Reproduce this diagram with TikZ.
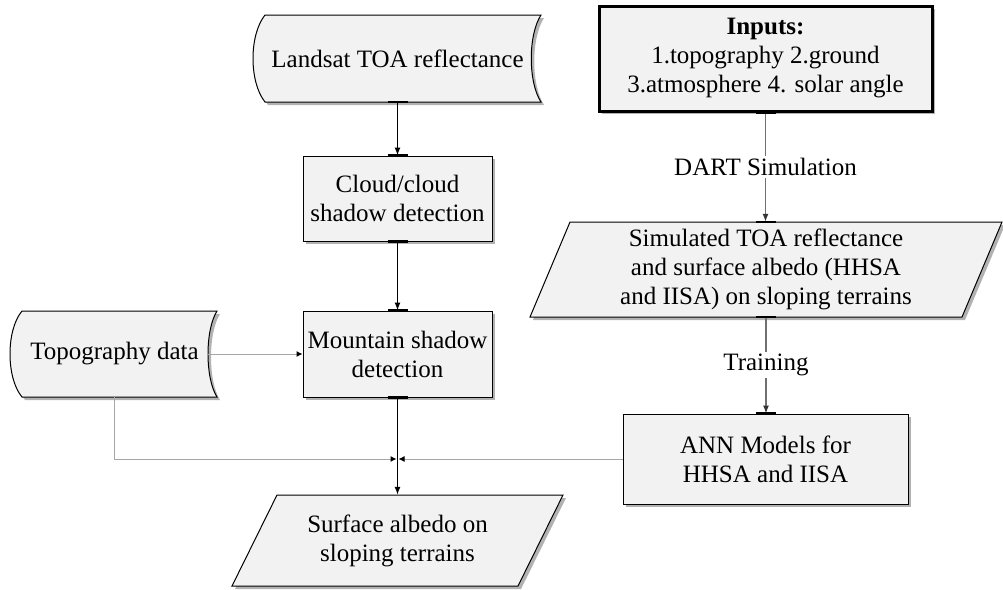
\documentclass[tikz,border=0pt]{standalone}
\usepackage{fontspec}
\setmainfont{Liberation Serif}
\usetikzlibrary{arrows.meta,shadows}
\definecolor{boxfill}{HTML}{F2F2F2}
\definecolor{linkgray}{HTML}{A6A6A6}
\definecolor{flowgray}{HTML}{707070}

\begin{document}
\begin{tikzpicture}
[x=1pt,y=-1pt,
 txt/.style={font=\fontsize{25}{29}\selectfont, align=center, inner sep=0pt},
 outline/.style={draw=black, line width=1pt, fill=boxfill, drop shadow={shadow xshift=3pt, shadow yshift=-3pt, opacity=0.3, fill=black}},
 procbox/.style={outline, txt, rectangle},
 flow/.style={draw=black, line width=1.2pt, -{Latex[length=8pt,width=6pt]}},
 flowg/.style={draw=flowgray, line width=1.3pt, -{Latex[length=8pt,width=6pt,color=black!80]}},
 feed/.style={draw=linkgray, line width=1pt, -{Latex[length=6pt,width=6pt,color=black]}},
 cptick/.style={line width=2.5pt, black}]
\useasboundingbox (0,0) rectangle (1003,589);

\draw [outline] (265,15) -- (541,15) .. controls (528,35) and (528,82) .. (541,102) -- (265,102) .. controls (249,82) and (249,35) .. (265,15) -- cycle;
\node [txt, minimum width=265pt, minimum height=87pt] (landsat) at (397.5,58.5) {Landsat TOA reflectance};
\node [procbox, minimum width=189pt, minimum height=85pt] (cloud) at (397.5,198.5) {Cloud/cloud\\shadow detection};
\node [procbox, minimum width=189pt, minimum height=86pt] (mountain) at (397.5,354) {Mountain shadow\\detection};
\draw [outline] (22,311) -- (217,311) .. controls (205,330) and (205,378) .. (217,397) -- (22,397) .. controls (6,378) and (6,330) .. (22,311) -- cycle;
\node [txt, minimum width=185pt, minimum height=86pt] (topo) at (114.5,354) {Topography data};
\draw [outline] (277,495) -- (563,495) -- (518,586) -- (232,586) -- cycle;
\node [txt, minimum width=240pt, minimum height=91pt] (albedo) at (397.5,540.5) {Surface albedo on\\sloping terrains};

\node [procbox, line width=3pt, minimum width=333pt, minimum height=105pt] (inputs) at (765.5,58.5) {\textbf{Inputs:}\\1.topography 2.ground\\3.atmosphere 4. solar angle};
\draw [outline] (570,222) -- (1002,222) -- (962,317) -- (530,317) -- cycle;
\node [txt, minimum width=380pt, minimum height=95pt] (sim) at (766,269.5) {Simulated TOA reflectance\\and surface albedo (HHSA\\and IISA) on sloping terrains};
\node [procbox, minimum width=285pt, minimum height=90pt] (ann) at (765.5,459) {ANN Models for\\HHSA and IISA};

\draw [flow] (landsat) -- (cloud);
\draw [flow] (cloud) -- (mountain);
\draw [flow] (mountain) -- (albedo);
\draw [feed] (topo) -- (mountain);
\coordinate (jn) at (mountain.south |- ann.west);
\draw [feed] (topo.south) |- ([xshift=-1pt]jn);
\draw [feed] (ann.west) -- ([xshift=1pt]jn);
\draw [flowg] (inputs.south) -- node [txt, fill=white, inner sep=2pt] (dartlbl) {DART Simulation} (inputs.south |- sim.north);
\draw [flowg] (sim.south) -- node [txt, fill=white, inner sep=2pt] (trainlbl) {Training} (sim.south |- ann.north);

\foreach \p in {landsat.south, cloud.north, cloud.south, mountain.north, mountain.south, inputs.south, sim.north, sim.south, ann.north}
  \draw [cptick] ([xshift=-10pt]\p) -- ([xshift=10pt]\p);
\end{tikzpicture}
\end{document}
